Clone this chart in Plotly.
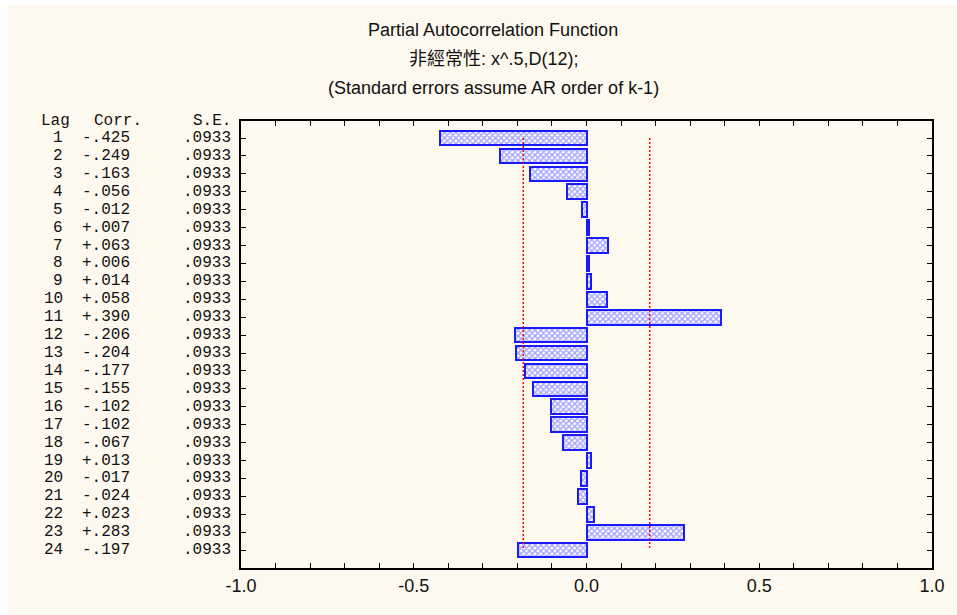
import plotly.graph_objects as go

lags = list(range(1, 25))
corr = [-0.425, -0.249, -0.163, -0.056, -0.012, 0.007, 0.063, 0.006, 0.014, 0.058,
        0.390, -0.206, -0.204, -0.177, -0.155, -0.102, -0.102, -0.067, 0.013, -0.017,
        -0.024, 0.023, 0.283, -0.197]
se = [0.0933] * 24
x_ticks = [round(-1 + 0.1 * i, 1) for i in range(21)]
x_labels = [f"{v:.1f}" if abs(v * 2 - round(v * 2)) < 1e-9 else "" for v in x_ticks]
title_lines = ["Partial Autocorrelation Function", "非經常性: x^.5,D(12);",
               "(Standard errors assume AR order of k-1)"]
header = ["Lag", "Corr.", "S.E."]

W, H = 957, 615
L, R, T, B = 241, 20, 121, 47
pw, ph = W - L - R, H - T - B


def px(x):
    return (x - L) / pw


def py(y):
    return (H - B - y) / ph


def fmt(v, sign=True):
    s = f"{v:+.3f}" if sign else f"{v:.4f}"
    return s.replace("0.", ".", 1)


fig = go.Figure()
fig.add_trace(go.Bar(
    y=lags, x=corr, orientation="h", width=0.82,
    marker=dict(color="#ffffff",
                line=dict(color="#1a1aff", width=2),
                pattern=dict(shape="x", fgcolor="#4646ff", bgcolor="#ffffff", size=4, solidity=0.6)),
    showlegend=False, hoverinfo="skip"))

lim = [1.96 * s for s in se]
fig.add_trace(go.Scatter(x=[-lim[0], -lim[-1]], y=[lags[0], lags[-1]], mode="lines",
                         line=dict(color="#ff0000", width=1.5, dash="2px,2px"), showlegend=False))
fig.add_trace(go.Scatter(x=[lim[0], lim[-1]], y=[lags[0], lags[-1]], mode="lines",
                         line=dict(color="#ff0000", width=1.5, dash="2px,2px"), showlegend=False))

mono = dict(family="Liberation Mono, Courier New, monospace", size=16, color="#111111")
ann = []
for lag, c, s in zip(lags, corr, se):
    ann.append(dict(x=px(63), y=lag, xref="paper", yref="y", text=str(lag), showarrow=False,
                    xanchor="right", yanchor="middle", font=mono, borderpad=0))
    ann.append(dict(x=px(105), y=lag, xref="paper", yref="y", text=fmt(c), showarrow=False,
                    xanchor="center", yanchor="middle", font=mono, borderpad=0))
    ann.append(dict(x=px(232), y=lag, xref="paper", yref="y", text=fmt(s, False), showarrow=False,
                    xanchor="right", yanchor="middle", font=mono, borderpad=0))
ann.append(dict(x=px(39), y=py(121), xref="paper", yref="paper", text=header[0], showarrow=False,
                xanchor="left", yanchor="middle", font=mono, borderpad=0))
ann.append(dict(x=px(117), y=py(121), xref="paper", yref="paper", text=header[1], showarrow=False,
                xanchor="center", yanchor="middle", font=mono, borderpad=0))
ann.append(dict(x=px(232), y=py(121), xref="paper", yref="paper", text=header[2], showarrow=False,
                xanchor="right", yanchor="middle", font=mono, borderpad=0))
sans = dict(family="Liberation Sans, Arial, Noto Sans CJK TC", size=18, color="#111111")
for txt, yy in zip(title_lines, [30, 59, 88]):
    ann.append(dict(x=px(495), y=py(yy), xref="paper", yref="paper", text=txt, showarrow=False,
                    xanchor="center", yanchor="middle", font=sans, borderpad=0))

fig.update_layout(
    width=W, height=H, margin=dict(l=L, r=R, t=T, b=B),
    paper_bgcolor="#ffffff", plot_bgcolor="#ffffff",
    annotations=ann, bargap=0,
    shapes=[dict(type="rect", xref="paper", yref="paper", x0=px(6), x1=px(W + 5), y0=py(H + 5), y1=py(5),
                 fillcolor="#fef9ee", line=dict(width=0), layer="below")],
    xaxis=dict(range=[-1, 1], tickvals=x_ticks, ticktext=x_labels, ticks="inside", ticklen=5,
               tickcolor="#000", showline=True, linecolor="#000", linewidth=2, mirror="ticks",
               showgrid=False, zeroline=False,
               tickfont=dict(family="Liberation Sans, Arial", size=18, color="#111111")),
    yaxis=dict(range=[25, 0.05], tickvals=lags, showticklabels=False, ticks="inside", ticklen=5,
               tickcolor="#000", showline=True, linecolor="#000", linewidth=2, mirror="ticks",
               showgrid=False, zeroline=False),
)
fig.write_html("out.html")
